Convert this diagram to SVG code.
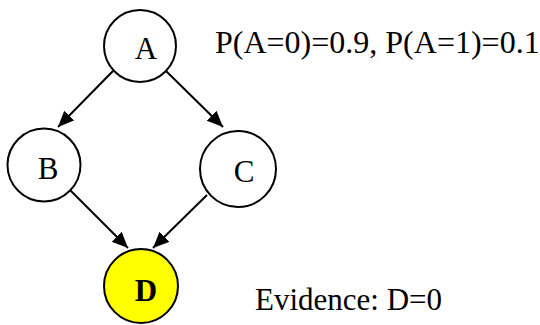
<svg xmlns="http://www.w3.org/2000/svg" width="540" height="325" viewBox="0 0 540 325">
<style>
.node{fill:#fff;stroke:#000;stroke-width:2}
.lbl{font-family:"Liberation Serif","Times New Roman",serif;font-size:31px;fill:#000}
.edge{stroke:#000;stroke-width:2;fill:none;marker-end:url(#arr)}
</style>
<defs>
<marker id="arr" markerUnits="userSpaceOnUse" markerWidth="18" markerHeight="15" refX="16" refY="7" orient="auto">
<path d="M0,0 L16,7 L0,14 z" fill="#000"/>
</marker>
</defs>
<rect width="540" height="325" fill="#fff"/>
<g id="edges">
<line class="edge" x1="113" y1="71" x2="58" y2="127"/>
<line class="edge" x1="166" y1="71" x2="223" y2="127"/>
<line class="edge" x1="70" y1="190" x2="128" y2="248"/>
<line class="edge" x1="207" y1="195" x2="153" y2="248"/>
</g>
<g id="A"><circle class="node" cx="140" cy="46" r="36"/><text class="lbl" x="146" y="59" text-anchor="middle">A</text></g>
<g id="B"><circle class="node" cx="44" cy="165" r="36.5"/><text class="lbl" x="48" y="179" text-anchor="middle">B</text></g>
<g id="C"><circle class="node" cx="238" cy="169" r="38"/><text class="lbl" x="244" y="182" text-anchor="middle">C</text></g>
<g id="D"><circle class="node" cx="141" cy="286" r="37" style="fill:#ffff00"/><text class="lbl" x="146" y="301" text-anchor="middle" font-weight="bold">D</text></g>
<text class="lbl" x="215" y="53" style="font-size:32px">P(A=0)=0.9, P(A=1)=0.1</text>
<text class="lbl" x="255" y="310">Evidence: D=0</text>
</svg>
